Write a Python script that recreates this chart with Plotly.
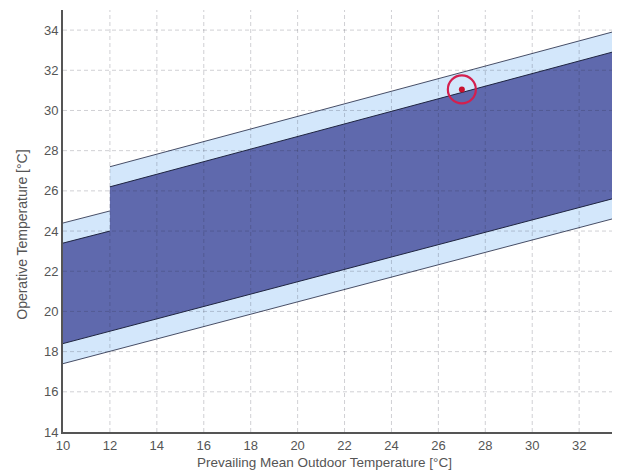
import plotly.graph_objects as go

# Comfort band boundaries (operative temperature, °C) vs prevailing mean outdoor temperature
x_lower = [10, 33.4]
band80_lower = [17.4, 24.6]
band90_lower = [18.4, 25.6]

x_upper = [10, 12, 12, 33.4]
band80_upper = [24.4, 25.0, 27.2, 33.9]
band90_upper = [23.4, 24.0, 26.2, 32.9]

# Highlighted operating point
point_x = [27]
point_y = [31.05]

x_ticks = [10, 12, 14, 16, 18, 20, 22, 24, 26, 28, 30, 32]
y_ticks = [14, 16, 18, 20, 22, 24, 26, 28, 30, 32, 34]

LIGHT = "#d3e7fb"
DARK = "#5f69ad"
EDGE = "#1e2440"
GRID = "rgba(40,40,60,0.22)"

fig = go.Figure()


def band(xu, yu, xl, yl, fill):
    xs = list(xu) + list(reversed(xl))
    ys = list(yu) + list(reversed(yl))
    fig.add_trace(go.Scatter(x=xs, y=ys, fill="toself", fillcolor=fill,
                             mode="none", hoverinfo="skip", showlegend=False))


band(x_upper, band80_upper, x_lower, band80_lower, LIGHT)
band(x_upper, band90_upper, x_lower, band90_lower, DARK)

# Edges of the bands (sloped segments only)
for xs, ys, w in [
    (x_upper[:2], band80_upper[:2], 0.8),
    (x_upper[2:], band80_upper[2:], 0.8),
    (x_upper[:2], band90_upper[:2], 1.0),
    (x_upper[2:], band90_upper[2:], 1.0),
    (x_lower, band80_lower, 0.8),
    (x_lower, band90_lower, 1.0),
]:
    fig.add_trace(go.Scatter(x=xs, y=ys, mode="lines",
                             line=dict(color=EDGE, width=w),
                             hoverinfo="skip", showlegend=False))

# Marked point with ring
fig.add_trace(go.Scatter(x=point_x, y=point_y, mode="markers",
                         marker=dict(symbol="circle-open", size=28, color="#d41f4e",
                                     line=dict(color="#d41f4e", width=2.2)),
                         showlegend=False))
fig.add_trace(go.Scatter(x=point_x, y=point_y, mode="markers",
                         marker=dict(symbol="circle", size=6, color="#c8102e"),
                         showlegend=False))

# Dashed grid drawn on top of the filled bands
grid_line = dict(color=GRID, width=1, dash="4px,3px")
for xv in x_ticks[1:]:
    fig.add_shape(type="line", xref="x", yref="paper", x0=xv, x1=xv, y0=0, y1=1,
                  line=grid_line, layer="above")
for yv in y_ticks[1:]:
    fig.add_shape(type="line", xref="paper", yref="y", x0=0, x1=1, y0=yv, y1=yv,
                  line=grid_line, layer="above")

text_color = "#555555"
font_family = "Liberation Sans, Arial, sans-serif"

# Axis titles
fig.add_annotation(text="Prevailing Mean Outdoor Temperature [°C]",
                   xref="paper", yref="paper", x=0.476, y=-0.073,
                   xanchor="center", yanchor="middle", showarrow=False,
                   font=dict(family=font_family, size=13.5, color=text_color))
fig.add_annotation(text="Operative Temperature [°C]",
                   xref="paper", yref="paper", x=-0.075, y=0.467,
                   xanchor="center", yanchor="middle", showarrow=False, textangle=-90,
                   font=dict(family=font_family, size=14, color=text_color))

fig.update_layout(
    width=617, height=473,
    margin=dict(l=63, r=5, t=10, b=41),
    paper_bgcolor="white", plot_bgcolor="white",
    font=dict(family=font_family, size=13, color=text_color),
    xaxis=dict(
        range=[10, 33.4], tickvals=x_ticks, ticktext=[str(v) for v in x_ticks],
        showgrid=False,
        showline=True, linecolor="#555555", linewidth=2,
        ticks="", zeroline=False, layer="above traces",
        tickfont=dict(size=13, color=text_color),
    ),
    yaxis=dict(
        range=[14, 35], tickvals=y_ticks, ticktext=[str(v) for v in y_ticks],
        showgrid=False,
        showline=True, linecolor="#555555", linewidth=2,
        ticks="", zeroline=False, layer="above traces",
        tickfont=dict(size=13, color=text_color),
    ),
)

fig.write_html("out.html")
